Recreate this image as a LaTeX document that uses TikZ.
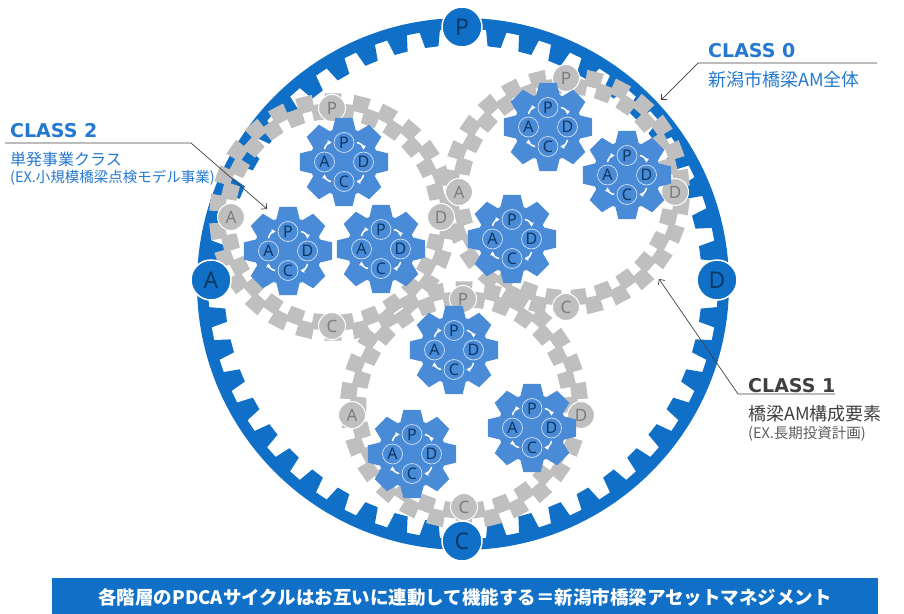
\documentclass[tikz,border=0pt]{standalone}
\usepackage{fontspec}
\setmainfont{Noto Sans}
\newfontfamily\jpfont{Noto Sans CJK JP}
\newfontfamily\classfont{DejaVu Sans}
\usetikzlibrary{arrows.meta}

\definecolor{ringblue}{RGB}{16,112,200}
\definecolor{gearblue}{RGB}{74,139,216}
\definecolor{geargrey}{RGB}{191,191,191}
\definecolor{lettergrey}{RGB}{125,125,125}
\definecolor{navy}{RGB}{12,56,100}
\definecolor{classblue}{RGB}{36,120,210}
\definecolor{classgrey}{RGB}{64,64,64}

% small PDCA gear: #1 = name prefix, #2 = centre
\newcommand{\pdcagear}[2]{%
	\begin{scope}[shift={(#2)}]
		\fill[gearblue] (-20:34) \foreach \k in {0,...,7}{
			-- (\k*45-20:34) -- (\k*45-11:45) -- (\k*45+11:45) -- (\k*45+20:34)} -- cycle;
		\node[pdca node] (#1p) at (-90:19.5) {P};
		\node[pdca node] (#1d) at (0:19.5) {D};
		\node[pdca node] (#1c) at (90:19.5) {C};
		\node[pdca node] (#1a) at (180:19.5) {A};
		\draw[pdca arrow] (#1p) to[out=0, in=90] (#1d);
		\draw[pdca arrow] (#1d) to[out=-90, in=0] (#1c);
		\draw[pdca arrow] (#1c) to[out=180, in=-90] (#1a);
		\draw[pdca arrow] (#1a) to[out=90, in=180] (#1p);
	\end{scope}}

\begin{document}
\begin{tikzpicture}[x=1pt,y=-1pt,
	ring label/.style = {circle, fill=ringblue, draw=white, line width=1.5pt, inner sep=0pt,
		minimum size=40pt, text=navy, font=\fontsize{23}{26}\selectfont},
	gear label/.style = {circle, fill=geargrey, draw=white, line width=1pt, inner sep=0pt,
		minimum size=27pt, text=lettergrey, font=\fontsize{17}{20}\selectfont},
	pdca node/.style = {circle, draw=white!75!gearblue, line width=0.7pt, inner sep=0pt,
		minimum size=20pt, text=navy, font=\fontsize{16}{19}\selectfont},
	pdca arrow/.style = {white, line width=1.5pt, -{Triangle[length=4pt,width=4.5pt]},
		shorten <=2.5pt, shorten >=2pt},
	class title/.style = {inner sep=0pt, anchor=base west, font=\classfont\bfseries\fontsize{19}{22}\selectfont},
	class text/.style = {inner sep=0pt, anchor=base west, font=\jpfont\fontsize{18}{21}\selectfont},
	class sub/.style = {inner sep=0pt, anchor=base west, font=\jpfont\fontsize{14.5}{17}\selectfont},
	leader/.style = {draw=classgrey, line width=0.7pt},
	leader arrow/.style = {leader, -{Straight Barb[length=4pt,width=8pt]}}]

	\useasboundingbox (0,0) rectangle (904,613);

	% outer ring, teeth pointing inwards
	\begin{scope}[shift={(463,284)}]
		\fill[ringblue, even odd rule] (0,0) circle (266)
			(-2.3:255) \foreach \k in {0,...,47}{
			-- (\k*7.5-2.3:255) -- (\k*7.5-1.6:239) -- (\k*7.5+1.6:239) -- (\k*7.5+2.3:255)} -- cycle;
	\end{scope}

	% the three grey gears, a chain of squares in and out
	\foreach \gx/\gy in {333/217, 566/192, 464/405}
		\fill[geargrey, shift={(\gx,\gy)}] \foreach \k in {0,...,25}{
			(\k*360/26-4.3:98) -- (\k*360/26+4.3:98) -- (\k*360/26+4.3:114) -- (\k*360/26-4.3:114) -- cycle
			(\k*360/26+360/52-3.95:108) -- (\k*360/26+360/52+3.95:108)
			-- (\k*360/26+360/52+3.95:124) -- (\k*360/26+360/52-3.95:124) -- cycle};

	\node[gear label] (g2p) at (332,108) {P};
	\node[gear label] (g2a) at (231,217) {A};
	\node[gear label] (g2d) at (441,217) {D};
	\node[gear label] (g2c) at (332,326) {C};

	\node[gear label] (g1p) at (566,78) {P};
	\node[gear label] (g1a) at (459,192) {A};
	\node[gear label] (g1d) at (675,192) {D};
	\node[gear label] (g1c) at (566,307) {C};

	\node[gear label] (g3p) at (463,299) {P};
	\node[gear label] (g3a) at (352,415) {A};
	\node[gear label] (g3d) at (581,415) {D};
	\node[gear label] (g3c) at (464,507) {C};

	\node[ring label] (rp) at (462,27) {P};
	\node[ring label] (ra) at (211,280) {A};
	\node[ring label] (rd) at (717,280) {D};
	\node[ring label] (rc) at (462,541) {C};

	% PDCA gears
	\pdcagear{s1}{344,162}
	\pdcagear{s2}{288,251}
	\pdcagear{s3}{381,249}
	\pdcagear{s4}{548,127}
	\pdcagear{s5}{627,175}
	\pdcagear{s6}{512,239}
	\pdcagear{s7}{454,350}
	\pdcagear{s8}{412,454}
	\pdcagear{s9}{532,428}

	% class labels
	\node[class title, text=classblue] (c0title) at (708,57) {CLASS 0};
	\node[class text, text=classblue] (c0text) at (708,86) {新潟市橋梁AM全体};
	\coordinate (c0end) at (877,63);
	\coordinate (c0knee) at (698,63);
	\coordinate (c0tip) at (661,100);
	\draw[leader arrow] (c0end) -- (c0knee) -- (c0tip);

	\node[class title, text=classgrey] (c1title) at (748,392) {CLASS 1};
	\node[class text, text=classgrey] (c1text) at (748,420) {橋梁AM構成要素};
	\node[class sub, text=classgrey!85] (c1sub) at (748,438) {(EX.長期投資計画)};
	\coordinate (c1end) at (835,394);
	\coordinate (c1knee) at (738,394);
	\coordinate (c1tip) at (659,279);
	\draw[leader arrow] (c1end) -- (c1knee) -- (c1tip);

	\node[class title, text=classblue] (c2title) at (10,137) {CLASS 2};
	\node[class text, text=classblue, font=\jpfont\fontsize{16}{19}\selectfont] (c2text) at (10,165) {単発事業クラス};
	\node[class sub, text=classblue] (c2sub) at (10,182) {(EX.小規模橋梁点検モデル事業)};
	\coordinate (c2end) at (5,143);
	\coordinate (c2knee) at (191,143);
	\coordinate (c2tip) at (267,209);
	\draw[leader arrow] (c2end) -- (c2knee) -- (c2tip);

	% banner
	\node[fill=ringblue, minimum width=826pt, minimum height=38pt, inner sep=0pt, text=white,
		font=\jpfont\bfseries\fontsize{18.5}{21}\selectfont] (motto) at (465,597)
		{各階層のPDCAサイクルはお互いに連動して機能する＝新潟市橋梁アセットマネジメント};

\end{tikzpicture}
\end{document}
